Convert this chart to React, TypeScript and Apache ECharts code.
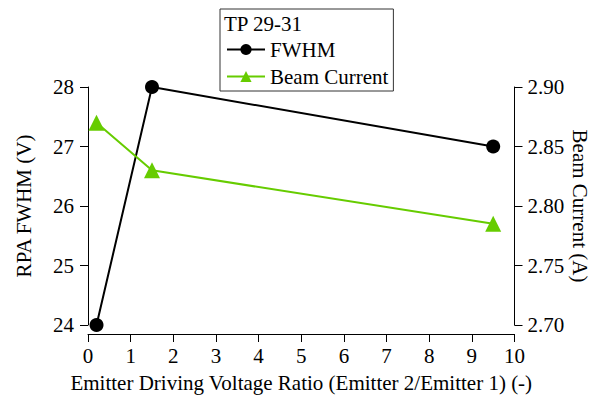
import React, { useEffect, useRef } from "react";
import * as echarts from "echarts";

const ratio = [0.2, 1.5, 9.5];
const fwhm = [24, 28, 27];
const beamCurrent = [2.87, 2.83, 2.785];
const legendTitle = "TP 29-31";
const xTitle = "Emitter Driving Voltage Ratio (Emitter 2/Emitter 1) (-)";
const leftTitle = "RPA FWHM (V)";
const rightTitle = "Beam Current (A)";

const FONT = "'Liberation Serif', 'Times New Roman', serif";
const FS = 21;
const GREEN = "#66cc00";

export default function App() {
  const ref = useRef<HTMLDivElement>(null);
  useEffect(() => {
    if (!ref.current) return;
    const chart = echarts.init(ref.current, null, { renderer: "svg" });
    const axisCommon = {
      axisLine: { show: true, lineStyle: { color: "#000", width: 1 } },
      axisTick: { show: true, length: 8, lineStyle: { color: "#000" } },
      splitLine: { show: false },
      axisLabel: { color: "#000", fontFamily: FONT, fontSize: FS },
      nameTextStyle: { color: "#000", fontFamily: FONT, fontSize: FS },
    };
    chart.setOption({
      animation: false,
      backgroundColor: "#fff",
      grid: {
        left: 88,
        right: 76.5,
        top: 87,
        bottom: 77,
        containLabel: false,
        outerBoundsMode: "none",
      },
      textStyle: { fontFamily: FONT },
      graphic: [
        {
          type: "text",
          left: 224,
          top: 13,
          style: { text: legendTitle, fontFamily: FONT, fontSize: FS, fill: "#000" },
        },
        {
          type: "text",
          x: 580,
          y: 206,
          rotation: -Math.PI / 2,
          style: {
            text: rightTitle,
            fontFamily: FONT,
            fontSize: FS,
            fill: "#000",
            align: "center",
            verticalAlign: "middle",
          },
        },
      ],
      legend: {
        orient: "vertical",
        left: 220,
        top: 9,
        padding: [30, 5, 4, 6],
        borderColor: "#333",
        borderWidth: 1,
        itemWidth: 38,
        itemHeight: 14,
        itemGap: 6,
        textStyle: { color: "#000", fontFamily: FONT, fontSize: FS },
        data: ["FWHM", "Beam Current"],
      },
      xAxis: {
        type: "value",
        min: 0,
        max: 10,
        interval: 1,
        offset: 9,
        name: xTitle,
        nameLocation: "middle",
        nameGap: 38,
        ...axisCommon,
        axisLabel: { ...axisCommon.axisLabel, margin: 11 },
      },
      yAxis: [
        {
          type: "value",
          position: "left",
          min: 24,
          max: 28,
          interval: 1,
          name: leftTitle,
          nameLocation: "middle",
          nameGap: 54,
          ...axisCommon,
          axisLabel: { ...axisCommon.axisLabel, margin: 14 },
        },
        {
          type: "value",
          position: "right",
          min: 2.7,
          max: 2.9,
          interval: 0.05,
          ...axisCommon,
          axisLabel: {
            ...axisCommon.axisLabel,
            margin: 13,
            formatter: (v: number) => v.toFixed(2),
          },
        },
      ],
      series: [
        {
          name: "FWHM",
          type: "line",
          yAxisIndex: 0,
          data: ratio.map((x, i) => [x, fwhm[i]]),
          symbol: "circle",
          symbolSize: 14,
          itemStyle: { color: "#000" },
          lineStyle: { color: "#000", width: 2 },
        },
        {
          name: "Beam Current",
          type: "line",
          yAxisIndex: 1,
          data: ratio.map((x, i) => [x, beamCurrent[i]]),
          symbol: "triangle",
          symbolSize: 16,
          itemStyle: { color: GREEN },
          lineStyle: { color: GREEN, width: 2 },
        },
      ],
    });
    return () => chart.dispose();
  }, []);
  return (
    <div
      ref={ref}
      style={{ position: "fixed", left: 0, top: 0, width: 591, height: 402, background: "#fff" }}
    />
  );
}
